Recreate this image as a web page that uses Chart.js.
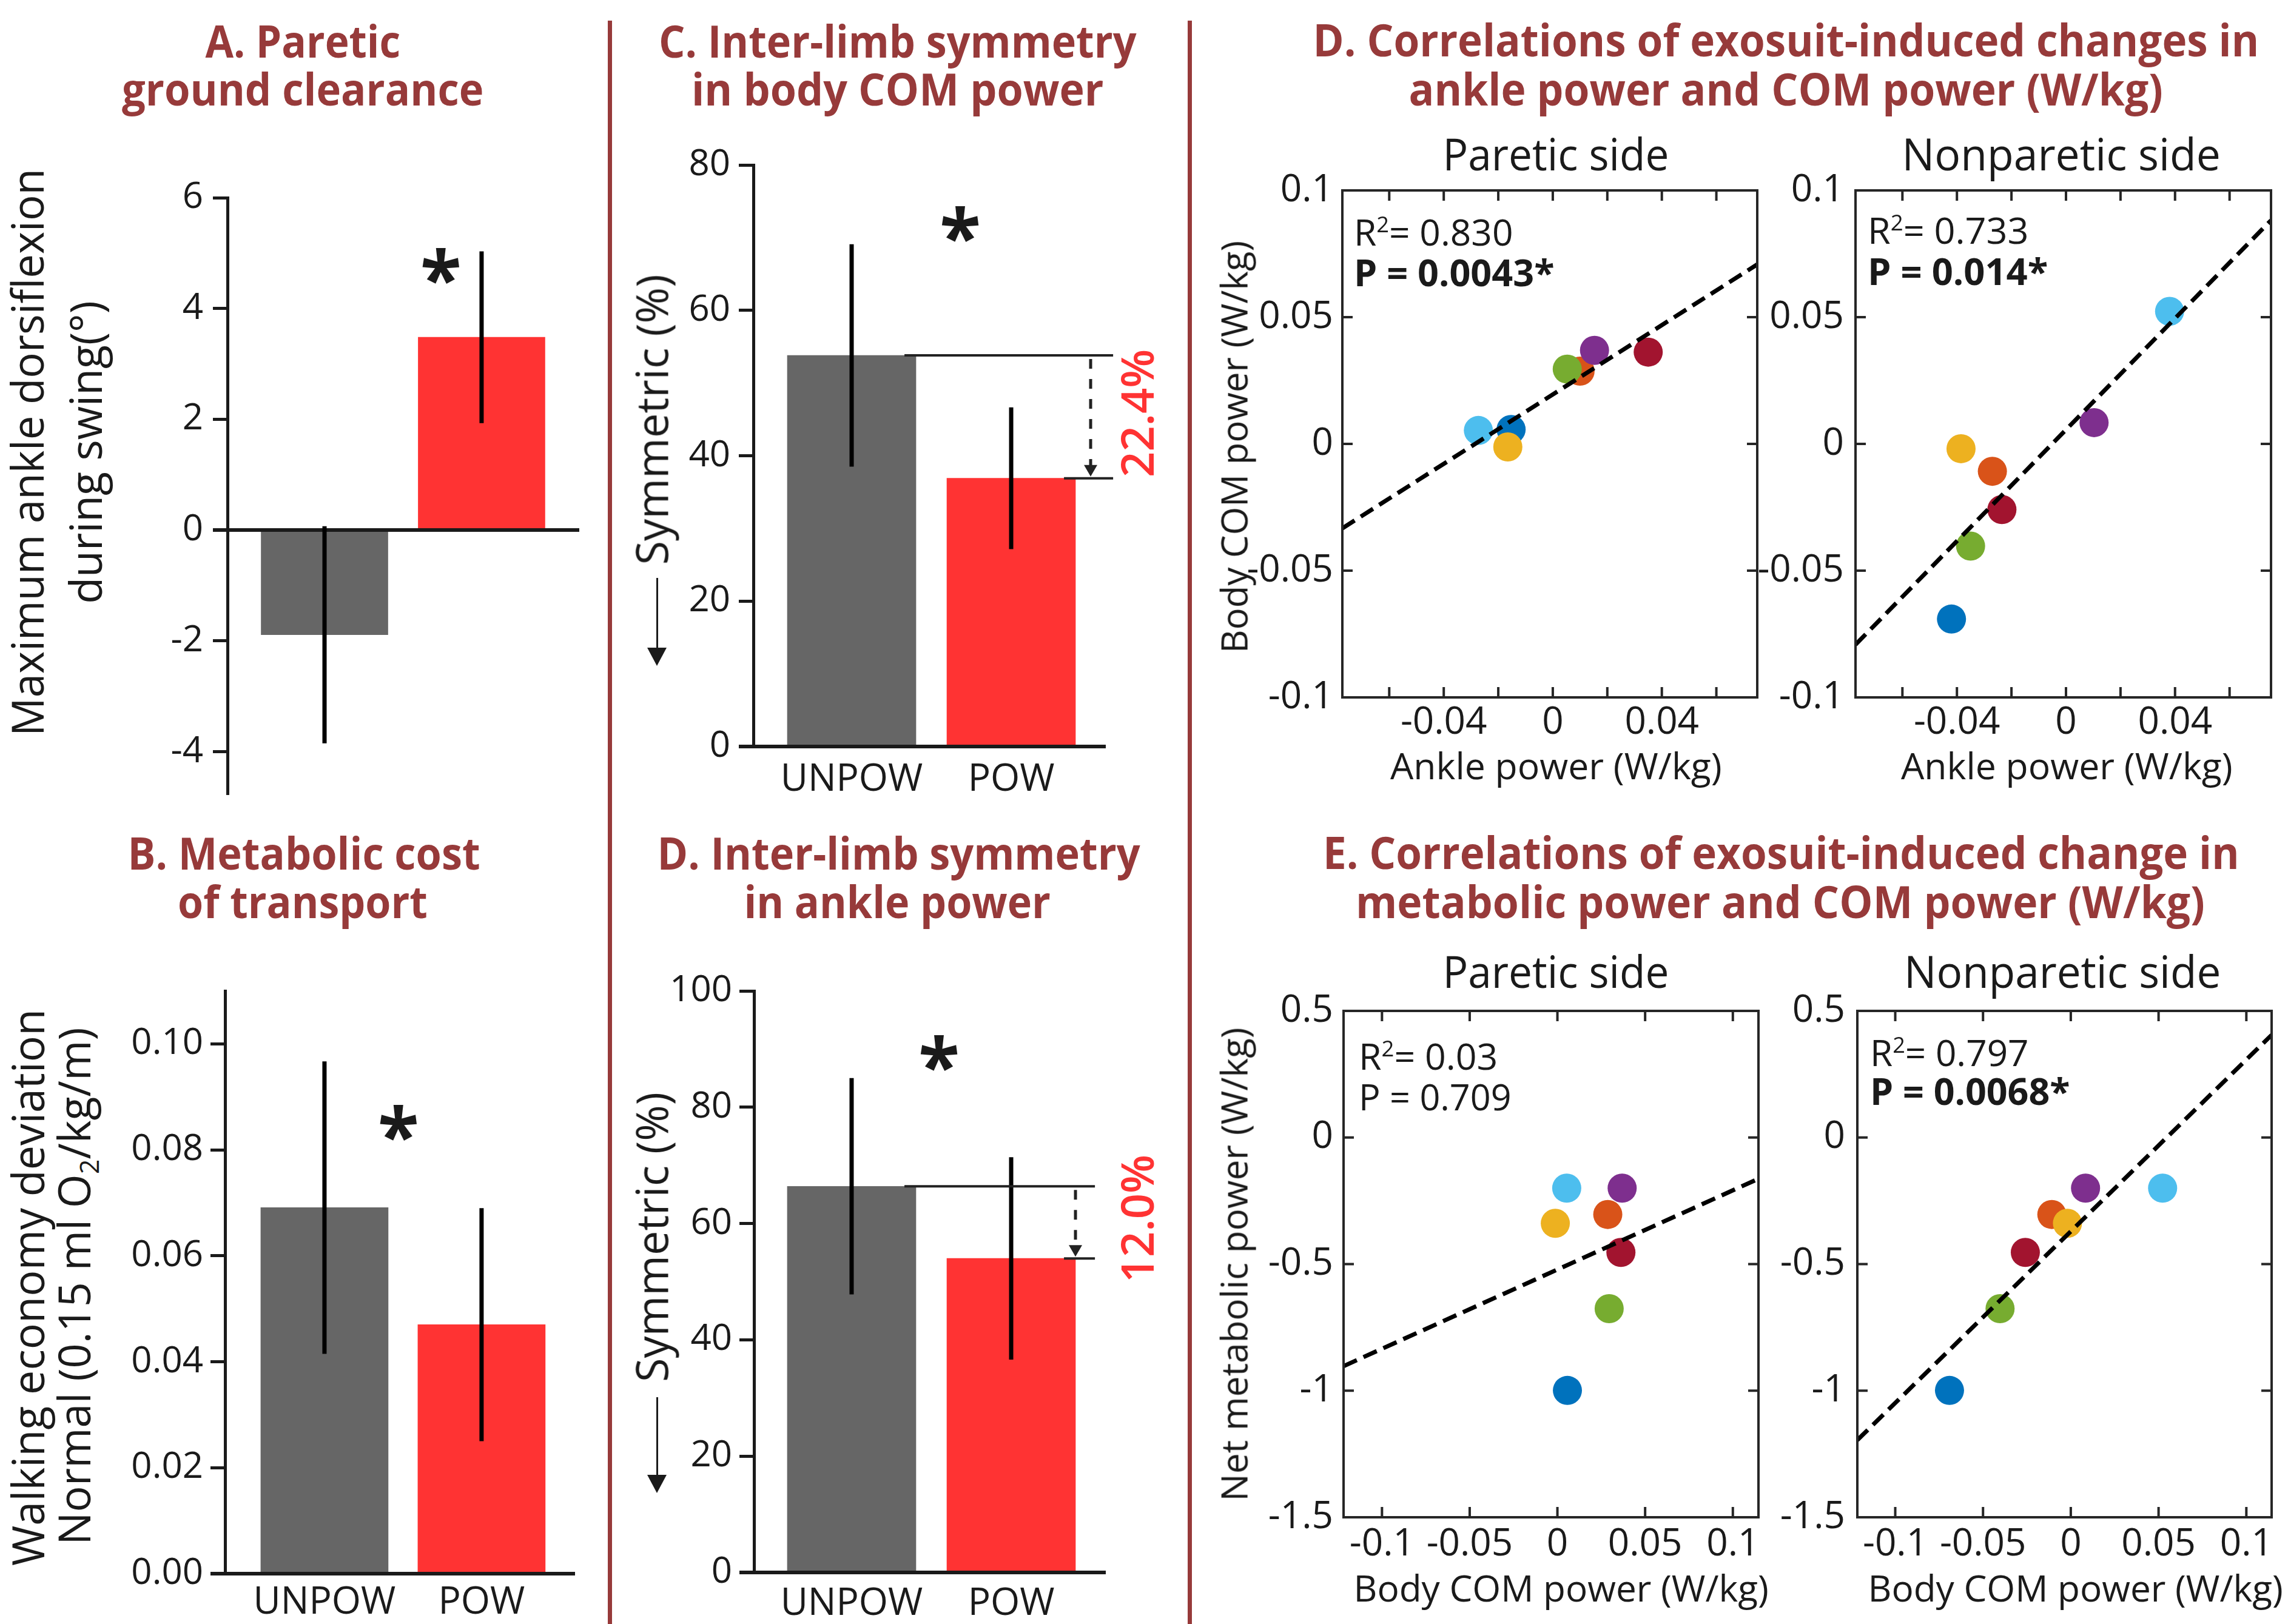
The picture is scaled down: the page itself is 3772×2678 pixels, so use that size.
<!DOCTYPE html>
<html>
<head>
<meta charset="utf-8">
<script src="https://cdn.jsdelivr.net/npm/chart.js@4.4.1/dist/chart.umd.min.js"></script>
<style>
  html, body { margin: 0; padding: 0; background: #fff; }
  #page { position: relative; width: 3772px; height: 2678px; overflow: hidden; font-family: 'Open Sans', sans-serif; }
  canvas { position: absolute; }
  .t { position: absolute; white-space: nowrap; line-height: 1; height: 1em; transform-origin: 50% 50%; }
  .t sup { font-size: 0.6em; vertical-align: 0.6em; line-height: 0; }
  .t sub { font-size: 0.6em; vertical-align: -0.3em; line-height: 0; }
  .rule { position: absolute; background: #973a3a; }
</style>
</head>
<body>
<div id="page"></div>
<script>
// ---- bar panels (mean, error) ----
const groups = ['UNPOW', 'POW'];

const clearanceMean = [-1.89, 3.48];
const clearanceErr = [1.96, 1.55];
const clearanceTicks = [-4, -2, 0, 2, 4, 6];
const clearanceTickLabels = ['-4', '-2', '0', '2', '4', '6'];

const costMean = [0.0691, 0.0470];
const costErr = [0.0276, 0.0220];
const costTicks = [0, 0.02, 0.04, 0.06, 0.08, 0.10];
const costTickLabels = ['0.00', '0.02', '0.04', '0.06', '0.08', '0.10'];

const comSymMean = [53.8, 36.9];
const comSymErr = [15.3, 9.75];
const comSymTicks = [0, 20, 40, 60, 80];
const comSymTickLabels = ['0', '20', '40', '60', '80'];
const comSymDrop = '22.4%';

const ankleSymMean = [66.4, 54.0];
const ankleSymErr = [18.6, 17.4];
const ankleSymTicks = [0, 20, 40, 60, 80, 100];
const ankleSymTickLabels = ['0', '20', '40', '60', '80', '100'];
const ankleSymDrop = '12.0%';

// ---- correlation panels, one entry per subject ----
const subjectColors = ['#0072BD', '#D95319', '#EDB120', '#7E2F8E', '#77AC30', '#4DBEEE', '#A2142F'];
const anklePareticChange = [-0.0153, 0.0100, -0.0165, 0.0153, 0.0053, -0.0273, 0.0350];
const ankleNonpareticChange = [-0.0420, -0.0270, -0.0385, 0.0103, -0.0350, 0.0380, -0.0235];
const comPareticChange = [0.0057, 0.0287, -0.0012, 0.0369, 0.0295, 0.0053, 0.0362];
const comNonpareticChange = [-0.0691, -0.0108, -0.0019, 0.0084, -0.0403, 0.0523, -0.0259];
const metabolicChange = [-0.999, -0.304, -0.339, -0.200, -0.676, -0.200, -0.454];

// fitted lines, end points [x, y]
const ankleFitParetic = [[-0.0772, -0.0333], [0.0750, 0.0708]];
const ankleFitNonparetic = [[-0.0772, -0.0792], [0.0752, 0.0882]];
const metFitParetic = [[-0.1219, -0.903], [0.1146, -0.163]];
const metFitNonparetic = [[-0.1216, -1.195], [0.1144, 0.405]];

const r2Values = ['0.830', '0.733', '0.03', '0.797'];
const pValues = ['0.0043*', '0.014*', '0.709', '0.0068*'];

const ankleTicks = [-0.06, -0.04, -0.02, 0, 0.02, 0.04, 0.06];
const ankleTickLabels = ['', '-0.04', '', '0', '', '0.04', ''];
const comTicks = [-0.1, -0.05, 0, 0.05, 0.1];
const comTickLabels = ['-0.1', '-0.05', '0', '0.05', '0.1'];
const metTicks = [-1.5, -1, -0.5, 0, 0.5];
const metTickLabels = ['-1.5', '-1', '-0.5', '0', '0.5'];

// ---------------------------------------------------------------
const page = document.getElementById('page');
const FONT = "'Open Sans', sans-serif";
const INK = '#1a1a1a';
const TITLE_RED = '#973a3a';

function plotCanvas(area, yw, xh, padT, padR) {
    const c = document.createElement('canvas');
    const w = yw + area.r - area.l + padR;
    const h = padT + area.b - area.t + xh;
    c.width = w;
    c.height = h;
    c.style.left = (area.l - yw) + 'px';
    c.style.top = (area.t - padT) + 'px';
    c.style.width = w + 'px';
    c.style.height = h + 'px';
    page.appendChild(c);
    return c;
}

function strokeLine(ctx, x1, y1, x2, y2) {
    ctx.beginPath();
    ctx.moveTo(x1, y1);
    ctx.lineTo(x2, y2);
    ctx.stroke();
}

// error bars, zero line, asterisk and the difference marker of the bar panels
const barMarks = {
    id: 'barMarks',
    afterDatasetsDraw(chart, args, o) {
        const { ctx, chartArea: a } = chart;
        const x = chart.scales.x, y = chart.scales.y;
        ctx.save();
        ctx.strokeStyle = INK;
        ctx.lineWidth = 6;
        const by = y.getPixelForValue(0);
        strokeLine(ctx, a.left - 24, by, a.right, by);

        ctx.strokeStyle = '#000';
        ctx.lineWidth = 7;
        o.means.forEach((m, i) => {
            const px = x.getPixelForValue(i + 1);
            strokeLine(ctx, px, y.getPixelForValue(m - o.errs[i]), px, y.getPixelForValue(m + o.errs[i]));
        });

        ctx.fillStyle = INK;
        ctx.font = `700 125px ${FONT}`;
        ctx.textAlign = 'center';
        ctx.textBaseline = 'alphabetic';
        ctx.fillText('*', x.getPixelForValue(o.star[0]), y.getPixelForValue(o.star[1]) + 66);

        if (o.drop) {
            const d = o.drop;
            const yTop = y.getPixelForValue(o.means[0]);
            const yBot = y.getPixelForValue(o.means[1]);
            const xEnd = x.getPixelForValue(d.end);
            ctx.strokeStyle = '#222';
            ctx.fillStyle = '#222';
            ctx.lineWidth = 4;
            strokeLine(ctx, x.getPixelForValue(d.topStart), yTop, xEnd, yTop);
            strokeLine(ctx, x.getPixelForValue(d.botStart), yBot, xEnd, yBot);
            const ax = x.getPixelForValue(d.arrowX);
            ctx.lineWidth = 5;
            ctx.setLineDash([16, 17]);
            strokeLine(ctx, ax, yTop + 6, ax, yBot - 20);
            ctx.setLineDash([]);
            ctx.beginPath();
            ctx.moveTo(ax - 11, yBot - 22);
            ctx.lineTo(ax + 11, yBot - 22);
            ctx.lineTo(ax, yBot - 3);
            ctx.closePath();
            ctx.fill();

            ctx.translate(x.getPixelForValue(d.labelX), (yTop + yBot) / 2 - 6);
            ctx.rotate(-Math.PI / 2);
            ctx.font = `600 74px ${FONT}`;
            ctx.fillStyle = '#ff3333';
            ctx.textAlign = 'center';
            ctx.fillText(d.label, 0, 0);
        }
        ctx.restore();
    }
};

// closed box with inward ticks on all four sides
const frame = {
    id: 'frame',
    afterDatasetsDraw(chart) {
        const { ctx, chartArea: a } = chart;
        const x = chart.scales.x, y = chart.scales.y;
        ctx.save();
        ctx.strokeStyle = '#262626';
        ctx.lineWidth = 4;
        ctx.strokeRect(a.left, a.top, a.right - a.left, a.bottom - a.top);
        ctx.beginPath();
        x.ticks.forEach(t => {
            const px = x.getPixelForValue(t.value);
            ctx.moveTo(px, a.bottom); ctx.lineTo(px, a.bottom - 17);
            ctx.moveTo(px, a.top); ctx.lineTo(px, a.top + 17);
        });
        y.ticks.forEach(t => {
            const py = y.getPixelForValue(t.value);
            ctx.moveTo(a.left, py); ctx.lineTo(a.left + 17, py);
            ctx.moveTo(a.right, py); ctx.lineTo(a.right - 17, py);
        });
        ctx.stroke();
        ctx.restore();
    }
};

function fixedTicks(values, labels) {
    return {
        afterBuildTicks: s => { s.ticks = values.map(v => ({ value: v })); },
        callback: (v, i) => labels[i]
    };
}

function barChart(p) {
    const yw = 160, padT = 70;
    const canvas = plotCanvas(p.area, yw, p.xh, padT, p.padR);
    const xt = fixedTicks([1, 2], groups);
    const yt = fixedTicks(p.yTicks, p.yLabels);
    return new Chart(canvas, {
        type: 'bar',
        data: {
            datasets: [{
                data: p.means.map((m, i) => ({ x: i + 1, y: m })),
                backgroundColor: ['#666666', '#ff3333'],
                barThickness: p.thickness,
                borderWidth: 0
            }]
        },
        options: {
            responsive: false, animation: false, devicePixelRatio: 1, events: [],
            layout: { padding: { top: padT, right: p.padR, left: 0, bottom: 0 } },
            scales: {
                x: {
                    type: 'linear', min: p.xRange[0], max: p.xRange[1], offset: false,
                    afterBuildTicks: xt.afterBuildTicks,
                    afterFit: s => { s.height = p.xh; },
                    ticks: { callback: xt.callback, font: { family: FONT, size: 62 }, color: INK, padding: p.xPad, autoSkip: false, maxRotation: 0 },
                    grid: { display: false, drawTicks: false },
                    border: { display: false }
                },
                y: {
                    type: 'linear', min: p.yRange[0], max: p.yRange[1],
                    afterBuildTicks: yt.afterBuildTicks,
                    afterFit: s => { s.width = yw; },
                    ticks: { callback: yt.callback, font: { family: FONT, size: 60 }, color: INK, padding: p.yPad, autoSkip: false },
                    grid: { display: true, drawOnChartArea: false, drawTicks: true, tickLength: 24, lineWidth: 5, color: INK },
                    border: { display: true, width: 5, color: INK }
                }
            },
            plugins: {
                legend: { display: false }, tooltip: { enabled: false },
                barMarks: { means: p.means, errs: p.errs, star: p.star, drop: p.drop }
            }
        },
        plugins: [barMarks]
    });
}

function scatterChart(p) {
    const yw = 160, xh = 80, padT = 70, padR = 20;
    const canvas = plotCanvas(p.area, yw, xh, padT, padR);
    const xt = fixedTicks(p.xTicks, p.xLabels);
    const yt = fixedTicks(p.yTicks, p.yLabels);
    return new Chart(canvas, {
        type: 'scatter',
        data: {
            datasets: [
                {
                    data: p.fit.map(q => ({ x: q[0], y: q[1] })),
                    showLine: true, borderColor: '#000', borderWidth: 7, borderDash: [24, 12],
                    pointRadius: 0, order: 0
                },
                {
                    data: p.xs.map((v, i) => ({ x: v, y: p.ys[i] })),
                    backgroundColor: subjectColors, pointRadius: 24, pointHoverRadius: 24,
                    borderWidth: 0, order: 1
                }
            ]
        },
        options: {
            responsive: false, animation: false, devicePixelRatio: 1, events: [],
            layout: { padding: { top: padT, right: padR, left: 0, bottom: 0 } },
            scales: {
                x: {
                    type: 'linear', min: p.xRange[0], max: p.xRange[1],
                    afterBuildTicks: xt.afterBuildTicks,
                    afterFit: s => { s.height = xh; },
                    ticks: { callback: xt.callback, font: { family: FONT, size: 62 }, color: INK, padding: p.xPad, autoSkip: false, maxRotation: 0 },
                    grid: { display: false, drawTicks: false },
                    border: { display: false }
                },
                y: {
                    type: 'linear', min: p.yRange[0], max: p.yRange[1],
                    afterBuildTicks: yt.afterBuildTicks,
                    afterFit: s => { s.width = yw; },
                    ticks: { callback: yt.callback, font: { family: FONT, size: 62 }, color: INK, padding: p.yPad, autoSkip: false },
                    grid: { display: false, drawTicks: false },
                    border: { display: false }
                }
            },
            plugins: { legend: { display: false }, tooltip: { enabled: false } }
        },
        plugins: [frame]
    });
}

// text laid out by baseline; w = measured width in the reference
function addText(html, o) {
    const d = document.createElement('div');
    d.className = 't';
    d.innerHTML = html;
    d.style.fontSize = o.size + 'px';
    d.style.fontWeight = o.weight || 400;
    d.style.color = o.color || INK;
    page.appendChild(d);
    const w = d.offsetWidth, h = o.size;
    const s = o.w ? o.w / w : 1;
    const lift = 0.388 * o.size;
    if (o.rot) {
        d.style.left = (o.base - lift - w / 2) + 'px';
        d.style.top = (o.c - h / 2) + 'px';
        d.style.transform = `rotate(-90deg) scaleX(${s})`;
    } else if (o.lx !== undefined) {
        d.style.left = o.lx + 'px';
        d.style.top = (o.base - lift - h / 2) + 'px';
        d.style.transformOrigin = '0 50%';
        d.style.transform = `scaleX(${s})`;
    } else {
        d.style.left = (o.c - w / 2) + 'px';
        d.style.top = (o.base - lift - h / 2) + 'px';
        d.style.transform = `scaleX(${s})`;
    }
}

function addDownArrow(x, y1, y2) {
    const line = document.createElement('div');
    Object.assign(line.style, { position: 'absolute', left: (x - 1.5) + 'px', top: y1 + 'px', width: '3px', height: (y2 - 28 - y1) + 'px', background: INK });
    const head = document.createElement('div');
    Object.assign(head.style, {
        position: 'absolute', left: (x - 16) + 'px', top: (y2 - 30) + 'px', width: 0, height: 0,
        borderLeft: '16px solid transparent', borderRight: '16px solid transparent', borderTop: '30px solid ' + INK
    });
    page.appendChild(line);
    page.appendChild(head);
}

function addRule(x, w, top) {
    const r = document.createElement('div');
    r.className = 'rule';
    Object.assign(r.style, { left: (x - w / 2) + 'px', width: w + 'px', top: top + 'px', height: (2678 - top) + 'px' });
    page.appendChild(r);
}

// ---- bar charts ----
barChart({
    area: { l: 375, r: 955, t: 326, b: 1308 }, xh: 60, padR: 20,
    xRange: [0.382, 2.622], yRange: [-4.75, 6], yTicks: clearanceTicks, yLabels: clearanceTickLabels,
    yPad: 16, xPad: -61, thickness: 209,
    means: clearanceMean, errs: clearanceErr, star: [1.741, 4.76]
});
barChart({
    area: { l: 371, r: 948, t: 1634, b: 2595 }, xh: 83, padR: 20,
    xRange: [0.367, 2.595], yRange: [0, 0.11], yTicks: costTicks, yLabels: costTickLabels,
    yPad: 12, xPad: 11, thickness: 210,
    means: costMean, errs: costErr, star: [1.471, 0.085]
});
barChart({
    area: { l: 1242, r: 1823, t: 272, b: 1231 }, xh: 100, padR: 100,
    xRange: [0.384, 2.593], yRange: [0, 80], yTicks: comSymTicks, yLabels: comSymTickLabels,
    yPad: 14, xPad: 18, thickness: 212,
    means: comSymMean, errs: comSymErr, star: [1.681, 71.8],
    drop: { topStart: 1.331, botStart: 2.331, end: 2.639, arrowX: 2.498, labelX: 2.894, label: comSymDrop }
});
barChart({
    area: { l: 1243, r: 1823, t: 1634, b: 2593 }, xh: 85, padR: 100,
    xRange: [0.388, 2.593], yRange: [0, 100], yTicks: ankleSymTicks, yLabels: ankleSymTickLabels,
    yPad: 12, xPad: 15, thickness: 212,
    means: ankleSymMean, errs: ankleSymErr, star: [1.548, 89.3],
    drop: { topStart: 1.331, botStart: 2.331, end: 2.525, arrowX: 2.403, labelX: 2.894, label: ankleSymDrop }
});

// ---- correlation charts ----
scatterChart({
    area: { l: 2213, r: 2901, t: 314, b: 1150 }, xRange: [-0.0772, 0.0750], yRange: [-0.1, 0.1],
    xTicks: ankleTicks, xLabels: ankleTickLabels, yTicks: comTicks, yLabels: comTickLabels,
    xPad: 5, yPad: 15, xs: anklePareticChange, ys: comPareticChange, fit: ankleFitParetic
});
scatterChart({
    area: { l: 3059, r: 3748, t: 314, b: 1150 }, xRange: [-0.0772, 0.0752], yRange: [-0.1, 0.1],
    xTicks: ankleTicks, xLabels: ankleTickLabels, yTicks: comTicks, yLabels: comTickLabels,
    xPad: 5, yPad: 19, xs: ankleNonpareticChange, ys: comNonpareticChange, fit: ankleFitNonparetic
});
scatterChart({
    area: { l: 2215, r: 2903, t: 1667, b: 2502 }, xRange: [-0.1219, 0.1146], yRange: [-1.5, 0.5],
    xTicks: comTicks, xLabels: comTickLabels, yTicks: metTicks, yLabels: metTickLabels,
    xPad: 8, yPad: 17, xs: comPareticChange, ys: metabolicChange, fit: metFitParetic
});
scatterChart({
    area: { l: 3062, r: 3749, t: 1667, b: 2502 }, xRange: [-0.1216, 0.1144], yRange: [-1.5, 0.5],
    xTicks: comTicks, xLabels: comTickLabels, yTicks: metTicks, yLabels: metTickLabels,
    xPad: 8, yPad: 20, xs: comNonpareticChange, ys: metabolicChange, fit: metFitNonparetic
});

// ---- dividers ----
addRule(1005, 7, 34);
addRule(1961, 7, 34);

// ---- panel titles ----
const T = { size: 74, weight: 700, color: TITLE_RED };
addText('A. Paretic', { ...T, c: 499, base: 96, w: 322 });
addText('ground clearance', { ...T, c: 499, base: 175, w: 596 });
addText('B. Metabolic cost', { ...T, c: 501, base: 1435, w: 581 });
addText('of transport', { ...T, c: 499, base: 1515, w: 412 });
addText('C. Inter-limb symmetry', { ...T, c: 1480, base: 96, w: 788 });
addText('in body COM power', { ...T, c: 1480, base: 175, w: 680 });
addText('D. Inter-limb symmetry', { ...T, c: 1481, base: 1435, w: 796 });
addText('in ankle power', { ...T, c: 1479, base: 1515, w: 506 });
addText('D. Correlations of exosuit-induced changes in', { ...T, c: 2944, base: 94, w: 1560 });
addText('ankle power and COM power (W/kg)', { ...T, c: 2944, base: 175, w: 1243 });
addText('E. Correlations of exosuit-induced change in', { ...T, c: 2936, base: 1434, w: 1511 });
addText('metabolic power and COM power (W/kg)', { ...T, c: 2935, base: 1515, w: 1400 });

// ---- sub titles ----
addText('Paretic side', { size: 74, c: 2565, base: 282, w: 373 });
addText('Nonparetic side', { size: 74, c: 3398, base: 282, w: 525 });
addText('Paretic side', { size: 74, c: 2565, base: 1630, w: 373 });
addText('Nonparetic side', { size: 74, c: 3400, base: 1630, w: 522 });

// ---- axis titles ----
addText('Maximum ankle dorsiflexion', { size: 74, rot: true, base: 73, c: 746, w: 936 });
addText('during swing(°)', { size: 74, rot: true, base: 169, c: 746, w: 500 });
addText('Walking economy deviation', { size: 74, rot: true, base: 73, c: 2123, w: 918 });
addText('Normal (0.15 ml O<sub>2</sub>/kg/m)', { size: 74, rot: true, base: 150, c: 2121, w: 853 });
addText('Symmetric (%)', { size: 74, rot: true, base: 1102, c: 692, w: 479 });
addText('Symmetric (%)', { size: 74, rot: true, base: 1102, c: 2040, w: 478 });
addDownArrow(1083, 953, 1098);
addDownArrow(1083, 2304, 2462);
addText('Body COM power (W/kg)', { size: 60, rot: true, base: 2057, c: 737, w: 680 });
addText('Net metabolic power (W/kg)', { size: 60, rot: true, base: 2057, c: 2085, w: 781 });
addText('Ankle power (W/kg)', { size: 60, c: 2565, base: 1285, w: 547 });
addText('Ankle power (W/kg)', { size: 60, c: 3407, base: 1285, w: 547 });
addText('Body COM power (W/kg)', { size: 60, c: 2573, base: 2641, w: 684 });
addText('Body COM power (W/kg)', { size: 60, c: 3421, base: 2641, w: 684 });

// ---- fit statistics ----
addText('R<sup>2</sup>= ' + r2Values[0], { size: 60, lx: 2232, base: 405, w: 263 });
addText('P = ' + pValues[0], { size: 60, weight: 700, lx: 2232, base: 472, w: 331 });
addText('R<sup>2</sup>= ' + r2Values[1], { size: 60, lx: 3079, base: 402, w: 266 });
addText('P = ' + pValues[1], { size: 60, weight: 700, lx: 3079, base: 470, w: 297 });
addText('R<sup>2</sup>= ' + r2Values[2], { size: 60, lx: 2240, base: 1764, w: 229 });
addText('P = ' + pValues[2], { size: 60, lx: 2240, base: 1831, w: 252 });
addText('R<sup>2</sup>= ' + r2Values[3], { size: 60, lx: 3083, base: 1758, w: 262 });
addText('P = ' + pValues[3], { size: 60, weight: 700, lx: 3083, base: 1822, w: 330 });
</script>
</body>
</html>
